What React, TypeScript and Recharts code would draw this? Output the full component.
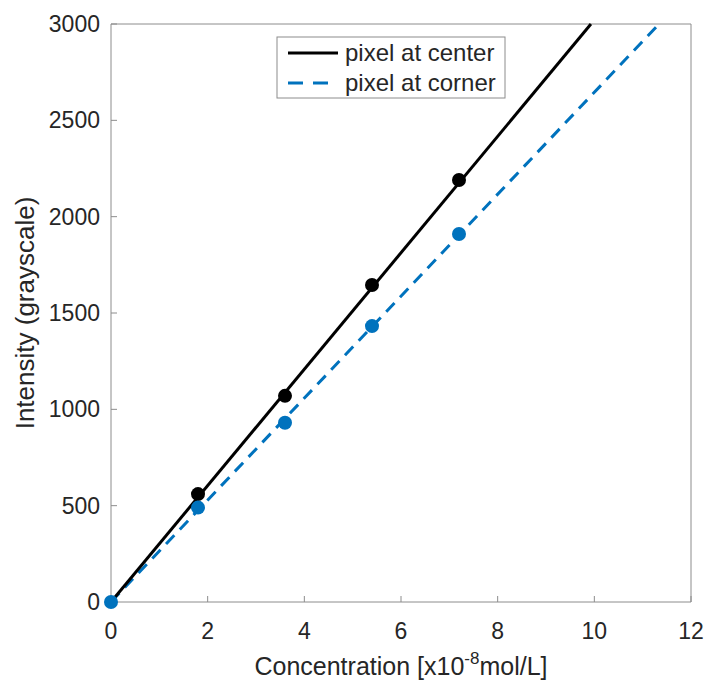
import {
  ComposedChart,
  Line,
  Scatter,
  XAxis,
  YAxis,
  ReferenceLine,
  Label,
} from "recharts";

// --- Colors (MATLAB default look) ---
const COLORS = {
  center: "#000000",
  corner: "#0072bd",
  axis: "#8c8c8c",
  text: "#262626",
};

const FONT = "'Liberation Sans', Arial, Helvetica, sans-serif";

// --- Data ---
const CONCENTRATION = [1.8, 3.6, 5.4, 7.2];
const CENTER_VALUES = [560, 1070, 1645, 2190];
const CORNER_VALUES = [490, 930, 1432, 1910];

// linear fits through the origin, endpoints where they leave the plot
const CENTER_FIT = [
  { x: 0, y: 0 },
  { x: 9.93, y: 3000 },
];
const CORNER_FIT = [
  { x: 0, y: 0 },
  { x: 11.34, y: 3000 },
];

const X_TICKS = [0, 2, 4, 6, 8, 10, 12];
const Y_TICKS = [0, 500, 1000, 1500, 2000, 2500, 3000];

const centerPoints = CONCENTRATION.map((x, i) => ({ x, y: CENTER_VALUES[i] }));
const cornerPoints = [{ x: 0, y: 0 }].concat(
  CONCENTRATION.map((x, i) => ({ x, y: CORNER_VALUES[i] }))
);

const tickStyle = { fill: COLORS.text, fontSize: 23, fontFamily: FONT };

function XLabel({ viewBox }: any) {
  const cx = viewBox.x + viewBox.width / 2;
  return (
    <text x={cx} y={675} textAnchor="middle" fill={COLORS.text} fontSize={25} fontFamily={FONT}>
      Concentration [x10
      <tspan fontSize={17} dy={-11}>-8</tspan>
      <tspan dy={11}>mol/L]</tspan>
    </text>
  );
}

function YLabel({ viewBox }: any) {
  const cy = viewBox.y + viewBox.height / 2;
  return (
    <text
      x={25}
      y={cy}
      transform={`rotate(-90, 25, ${cy})`}
      textAnchor="middle"
      dominantBaseline="central"
      fill={COLORS.text}
      fontSize={26}
      fontFamily={FONT}
    >
      Intensity (grayscale)
    </text>
  );
}

export default function App() {
  return (
    <div style={{ position: "absolute", left: 0, top: 0, width: 709, height: 683, background: "#fff" }}>
      <ComposedChart
        width={709}
        height={683}
        margin={{ top: 24, right: 18, bottom: 41, left: 51 }}
      >
        <XAxis
          type="number"
          dataKey="x"
          domain={[0, 12]}
          ticks={X_TICKS}
          stroke={COLORS.axis}
          tick={tickStyle}
          tickSize={-6}
          tickMargin={27}
          height={40}
        >
          <Label content={<XLabel />} />
        </XAxis>
        <YAxis
          type="number"
          dataKey="y"
          domain={[0, 3000]}
          ticks={Y_TICKS}
          stroke={COLORS.axis}
          tick={tickStyle}
          tickSize={-6}
          tickMargin={17}
          width={60}
        >
          <Label content={<YLabel />} />
        </YAxis>
        <ReferenceLine y={3000} stroke={COLORS.axis} strokeWidth={1} />
        <ReferenceLine x={12} stroke={COLORS.axis} strokeWidth={1} />

        <Line
          data={CORNER_FIT}
          dataKey="y"
          type="linear"
          stroke={COLORS.corner}
          strokeWidth={3}
          strokeDasharray="12 8"
          dot={false}
          activeDot={false}
          isAnimationActive={false}
        />
        <Line
          data={CENTER_FIT}
          dataKey="y"
          type="linear"
          stroke={COLORS.center}
          strokeWidth={3}
          dot={false}
          activeDot={false}
          isAnimationActive={false}
        />
        <Scatter
          data={centerPoints}
          fill={COLORS.center}
          shape={(p: any) => <circle cx={p.cx} cy={p.cy} r={7} fill={COLORS.center} />}
          isAnimationActive={false}
        />
        <Scatter
          data={cornerPoints}
          fill={COLORS.corner}
          shape={(p: any) => <circle cx={p.cx} cy={p.cy} r={7} fill={COLORS.corner} />}
          isAnimationActive={false}
        />
      </ComposedChart>

      {/* Legend box */}
      <svg
        width={230}
        height={63}
        style={{ position: "absolute", left: 276, top: 36 }}
      >
        <rect x={1} y={1} width={228} height={61} fill="#fff" stroke={COLORS.axis} strokeWidth={1} />
        <line x1={12} y1={17} x2={62} y2={17} stroke={COLORS.center} strokeWidth={3} />
        <text x={69} y={25} fill={COLORS.text} fontSize={24} fontFamily={FONT}>
          pixel at center
        </text>
        <line x1={12} y1={47} x2={54} y2={47} stroke={COLORS.corner} strokeWidth={3} strokeDasharray="15 10" />
        <text x={69} y={55} fill={COLORS.text} fontSize={24} fontFamily={FONT}>
          pixel at corner
        </text>
      </svg>
    </div>
  );
}
